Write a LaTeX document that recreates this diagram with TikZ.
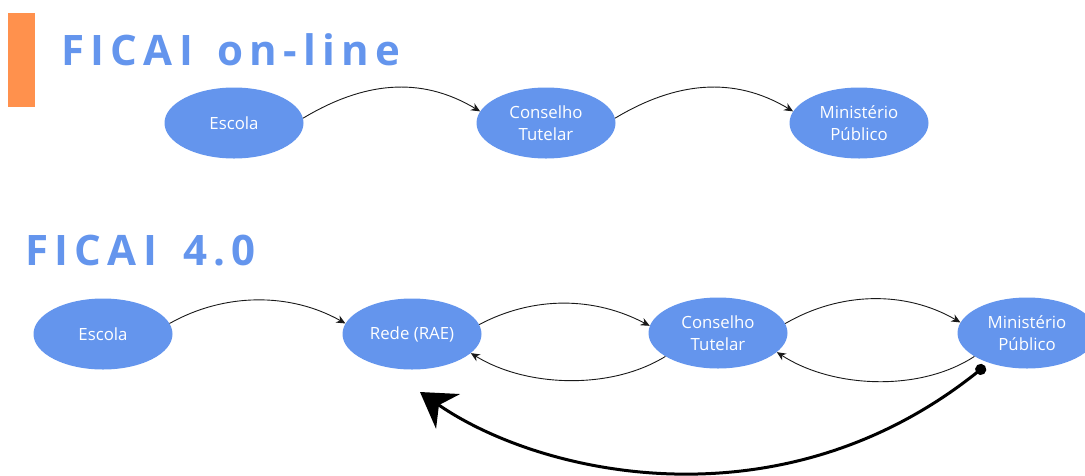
\documentclass[tikz,border=0pt]{standalone}
\usepackage{fontspec}
\usetikzlibrary{shapes.geometric,arrows.meta}
\newfontfamily\osans{Open Sans}
\newfontfamily\titlefont[LetterSpace=15]{Open Sans}
\definecolor{nodeblue}{HTML}{6495ED}
\definecolor{barorange}{HTML}{FF914D}
\begin{document}
\begin{tikzpicture}[x=1pt,y=-1pt,
  blob/.style={ellipse, fill=nodeblue, minimum width=139pt, minimum height=71pt, inner sep=0pt, text=white, align=center, font=\osans\fontsize{16.8}{22}\selectfont},
  flow/.style={draw=black!90, line width=0.9pt, -{Stealth[length=9pt,width=8pt]}},
  title/.style={anchor=base west, text=nodeblue, inner sep=0pt, font=\titlefont\bfseries\fontsize{42}{50}\selectfont},
  bigflow/.style={line width=3pt, {Circle[length=11pt]}-{Stealth[length=34pt,width=42pt,inset=11pt]}}]
\useasboundingbox (0,0) rectangle (1085,475);
\fill[barorange] (8,13) rectangle (35,107);
\node[title] (t1) at (61,65) {FICAI\hspace{7pt} on-line};
\node[title] (t2) at (25,265) {FICAI\hspace{9pt} 4.0};
\node[blob] (e1) at (234,123) {Escola};
\node[blob] (c1) at (546,123) {Conselho\\Tutelar};
\node[blob] (m1) at (859,123) {Ministério\\Público};
\node[blob] (e2) at (103,334) {Escola};
\node[blob] (r2) at (412,334) {Rede (RAE)};
\node[blob] (c2) at (718,333) {Conselho\\Tutelar};
\node[blob] (m2) at (1027,333) {Ministério\\Público};
\draw[flow] (e1.4) .. controls +(60,-36) and +(-60,-36) .. (c1.170);
\draw[flow] (c1.4) .. controls +(60,-36) and +(-60,-36) .. (m1.170);
\draw[flow] (e2.9) .. controls +(55,-31) and +(-55,-31) .. (r2.171);
\draw[flow] (r2.8) .. controls +(55,-29) and +(-55,-29) .. (c2.174);
\draw[flow] (c2.204) .. controls +(-55,34) and +(55,34) .. (r2.-18);
\draw[flow] (c2.8) .. controls +(55,-32) and +(-55,-32) .. (m2.171);
\draw[flow] (m2.204) .. controls +(-55,36) and +(55,36) .. (c2.-18);
\coordinate (bigstart) at (985,366);
\coordinate (bigend) at (420,392);
\draw[bigflow] (bigstart) .. controls (780,530) and (540,475) .. (bigend);
\end{tikzpicture}
\end{document}
